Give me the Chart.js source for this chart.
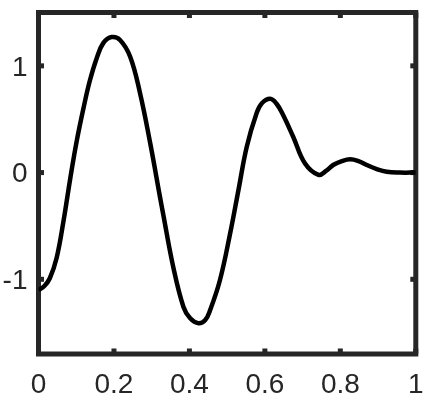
<!DOCTYPE html>
<html>
<head>
<meta charset="utf-8">
<title>Damped wave</title>
<script src="https://cdn.jsdelivr.net/npm/chart.js@4.4.1/dist/chart.umd.min.js"></script>
<style>
    html, body { margin: 0; padding: 0; background: #fff; }
    #wrap { width: 433px; height: 401px; }
</style>
</head>
<body>
<div id="wrap"><canvas id="waveChart" width="433" height="401"></canvas></div>
<script>
// values
const xValues = [0, 0.015, 0.030, 0.048, 0.066, 0.0835, 0.101, 0.119, 0.136, 0.154, 0.172, 0.194,
    0.216, 0.243, 0.269, 0.296, 0.322, 0.331, 0.357, 0.384, 0.402, 0.424, 0.442, 0.455,
    0.481, 0.508, 0.530, 0.552, 0.578, 0.592, 0.614, 0.631, 0.649, 0.675, 0.706, 0.742, 0.762,
    0.781, 0.804, 0.826, 0.848, 0.870, 0.895, 0.923, 0.958, 1.0];
const yValues = [-1.10, -1.065, -0.99, -0.80, -0.46, -0.07, 0.29, 0.60, 0.86, 1.07, 1.215, 1.270,
    1.243, 1.086, 0.746, 0.277, -0.229, -0.40, -0.882, -1.257, -1.366, -1.412, -1.381, -1.288,
    -1.007, -0.569, -0.163, 0.243, 0.556, 0.650, 0.692, 0.645, 0.535, 0.336, 0.087, -0.022, 0.015,
    0.071, 0.108, 0.125, 0.108, 0.071, 0.035, 0.008, 0.0, 0.0];
const xTicks = [0, 0.2, 0.4, 0.6, 0.8, 1];
const yTicks = [-1, 0, 1];
const xRange = [0, 1];
const yRange = [-1.7, 1.5];

const axisColor = '#262626';
const fontFamily = '"Liberation Sans", Arial, Helvetica, sans-serif';

// box round the plot with small ticks pointing inward
const boxPlugin = {
    id: 'boxPlugin',
    beforeDatasetsDraw(chart) {
        const { ctx, chartArea: a, scales } = chart;
        const len = 5.5;
        ctx.save();
        ctx.fillStyle = axisColor;
        xTicks.forEach(v => {
            const px = scales.x.getPixelForValue(v);
            ctx.fillRect(px - 2.5, a.bottom - len, 5, len);
            ctx.fillRect(px - 2.5, a.top, 5, len);
        });
        yTicks.forEach(v => {
            const py = scales.y.getPixelForValue(v);
            ctx.fillRect(a.left, py - 2.5, len, 5);
            ctx.fillRect(a.right - len, py - 2.5, len, 5);
        });
        ctx.strokeStyle = axisColor;
        ctx.lineWidth = 5;
        ctx.strokeRect(a.left, a.top, a.right - a.left, a.bottom - a.top);
        ctx.restore();
    }
};

function noPadding(scale) {
    scale.paddingTop = 0;
    scale.paddingBottom = 0;
    scale.paddingLeft = 0;
    scale.paddingRight = 0;
}

const ctx = document.getElementById('waveChart').getContext('2d');

new Chart(ctx, {
    type: 'line',
    data: {
        datasets: [{
            data: xValues.map((x, i) => ({ x: x, y: yValues[i] })),
            borderColor: '#000',
            borderWidth: 4.5,
            pointRadius: 0,
            fill: false,
            tension: 0.4
        }]
    },
    options: {
        responsive: false,
        animation: false,
        devicePixelRatio: 1,
        layout: { padding: { top: 12.5, right: 17.2, left: 0, bottom: 0 } },
        plugins: {
            legend: { display: false },
            tooltip: { enabled: false }
        },
        scales: {
            x: {
                type: 'linear',
                min: xRange[0],
                max: xRange[1],
                border: { display: false },
                grid: { display: false, drawTicks: false },
                afterBuildTicks: s => { s.ticks = xTicks.map(v => ({ value: v })); },
                afterFit: s => { s.height = 47; noPadding(s); },
                ticks: {
                    padding: 14,
                    maxRotation: 0,
                    color: axisColor,
                    font: { family: fontFamily, size: 28 },
                    callback: v => String(v)
                }
            },
            y: {
                type: 'linear',
                min: yRange[0],
                max: yRange[1],
                border: { display: false },
                grid: { display: false, drawTicks: false },
                afterBuildTicks: s => { s.ticks = yTicks.map(v => ({ value: v })); },
                afterFit: s => { s.width = 38.5; noPadding(s); },
                ticks: {
                    padding: 11,
                    labelOffset: 2,
                    color: axisColor,
                    font: { family: fontFamily, size: 28 },
                    callback: v => String(v)
                }
            }
        }
    },
    plugins: [boxPlugin]
});
</script>
</body>
</html>
